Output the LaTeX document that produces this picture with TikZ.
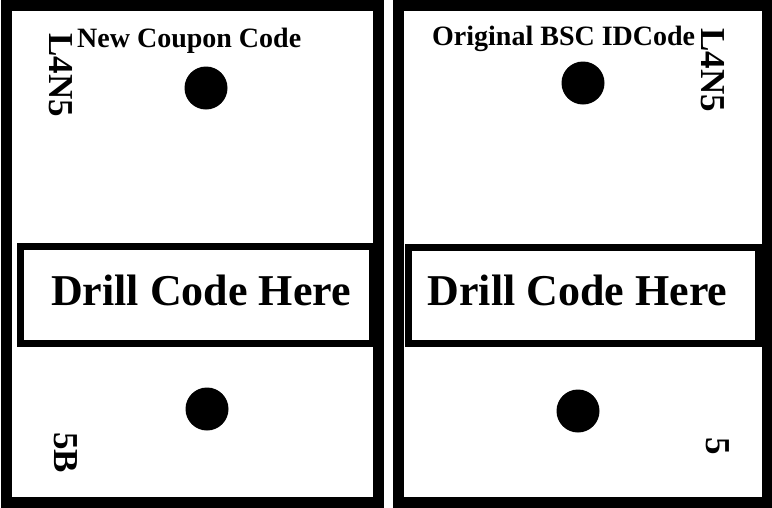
\documentclass[tikz,border=0pt]{standalone}
\usepackage{fontspec}
\setmainfont{Liberation Serif}
\usetikzlibrary{positioning}

\begin{document}
\begin{tikzpicture}[x=1pt, y=-1pt,
    panel/.style={line width=11pt, fill=white},
    drillbox/.style={line width=7pt},
    hole/.style={circle, fill=black, inner sep=0pt, minimum size=43pt},
    toplabel/.style={anchor=base west, inner sep=0pt, font=\fontsize{28}{30}\selectfont\bfseries},
    sidelabel/.style={anchor=base west, inner sep=0pt, rotate=-90, font=\fontsize{35}{38}\selectfont\bfseries},
    drilltext/.style={anchor=base, inner sep=0pt, font=\fontsize{44}{48}\selectfont\bfseries}]
    \useasboundingbox (0,0) rectangle (772,507);
    % Left coupon
    \draw[panel] (6,5) rectangle (378,502);
    \draw[drillbox] (20,246.5) rectangle (372,343.5);
    \node[toplabel] (newcode) at (77,47) {New Coupon Code};
    \node[sidelabel] (leftid) at (49,33) {L4N5};
    \node[sidelabel] (leftnum) at (54,432) {5B};
    \node[drilltext] (leftdrill) at (201,305) {Drill Code Here};
    \node[hole] (lefttop) at (206,88) {};
    \node[hole] (leftbot) at (207,409) {};
    % Right coupon
    \draw[panel] (398,5) rectangle (767,502);
    \draw[drillbox] (408.5,247) rectangle (758,343.5);
    \node[toplabel] (origcode) at (432,45) {Original BSC IDCode};
    \node[sidelabel] (rightid) at (701,28) {L4N5};
    \node[sidelabel] (rightnum) at (706,437) {5};
    \node[drilltext] (rightdrill) at (577.5,305) {Drill Code Here};
    \node[hole] (righttop) at (583,83) {};
    \node[hole] (rightbot) at (578,411) {};
\end{tikzpicture}
\end{document}
